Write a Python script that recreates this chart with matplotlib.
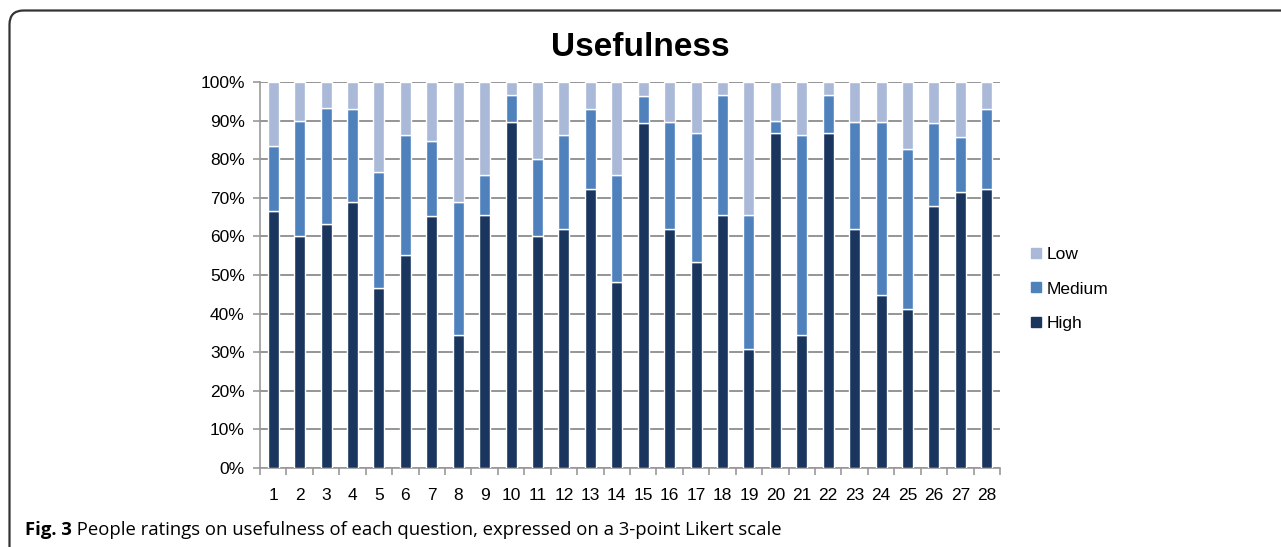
"""
Usefulness ratings per question, stacked 100% bar chart (3-point Likert scale)
"""

import numpy as np
import matplotlib
matplotlib.use('Agg')
from matplotlib import pyplot as plt
from matplotlib.patches import FancyBboxPatch
from matplotlib.lines import Line2D

# data (percent of respondents)
questions = [str(i) for i in range(1, 29)]
high = [66.6, 60.0, 63.3, 69.0, 46.6, 55.1, 65.4, 34.4, 65.5, 89.7,
        60.0, 62.0, 72.4, 48.2, 89.5, 62.0, 53.3, 65.5, 30.9, 86.7,
        34.4, 86.7, 62.0, 44.8, 41.3, 68.0, 71.5, 72.4]
medium_top = [83.3, 90.0, 93.3, 93.1, 76.7, 86.2, 84.6, 69.0, 75.8, 96.6,
              80.0, 86.2, 93.1, 75.8, 96.5, 89.7, 86.7, 96.6, 65.5, 90.0,
              86.2, 96.7, 89.7, 89.7, 82.7, 89.5, 85.7, 93.1]
medium = [m - h for m, h in zip(medium_top, high)]
low = [100 - m for m in medium_top]
y_ticks = list(range(0, 101, 10))

c_low = '#aab9d8'
c_med = '#4f81bd'
c_high = '#1b365e'


def draw_chart():
    plt.rcParams['font.family'] = ['Liberation Sans', 'DejaVu Sans']
    fig = plt.figure(figsize=(12.81, 5.47), dpi=100)
    ax = fig.add_axes([260 / 1281, 1 - 468 / 547, 740 / 1281, (468 - 82) / 547])

    x = np.arange(1, len(questions) + 1)
    w = 0.42
    ax.bar(x, high, w, color=c_high, edgecolor='white', linewidth=1, label='High', zorder=3)
    ax.bar(x, medium, w, bottom=high, color=c_med, edgecolor='white', linewidth=1,
           label='Medium', zorder=3)
    ax.bar(x, low, w, bottom=medium_top, color=c_low, edgecolor='white', linewidth=1,
           label='Low', zorder=3)

    ax.set_xlim(0.5, len(questions) + 0.5)
    ax.set_ylim(0, 100)
    ax.set_yticks(y_ticks)
    ax.set_yticklabels(['%d%%' % v for v in y_ticks], fontsize=12.5)
    ax.set_xticks(x)
    ax.set_xticklabels(questions, fontsize=12.5)
    ax.set_xticks(np.arange(0.5, len(questions) + 1), minor=True)
    ax.tick_params(axis='x', which='major', length=0, pad=14.5)
    ax.tick_params(axis='x', which='minor', length=5, color='#999999', width=1.2)
    ax.tick_params(axis='y', length=5, color='#999999', width=1.2, pad=6)

    ax.yaxis.grid(True, color='#8c8c8c', linewidth=1.3, zorder=0)
    ax.set_axisbelow(True)
    for side in ['top', 'right']:
        ax.spines[side].set_visible(False)
    for side in ['left', 'bottom']:
        ax.spines[side].set_color('#999999')
        ax.spines[side].set_linewidth(1.2)

    # legend in Low / Medium / High order
    handles = [Line2D([], [], marker='s', linestyle='', markersize=7, color=c)
               for c in (c_low, c_med, c_high)]
    fig.legend(handles, ['Low', 'Medium', 'High'], loc='center left',
               bbox_to_anchor=(1012 / 1281, 1 - 289 / 547), frameon=False,
               fontsize=12.5, handletextpad=0.1, labelspacing=1.1, handlelength=1.0)

    fig.text(640 / 1281, 1 - 47 / 547, 'Usefulness', ha='center', va='center',
             fontsize=24, fontweight='bold')

    # caption below the chart
    cap_font = ['Open Sans', 'DejaVu Sans']
    t1 = fig.text(25 / 1281, 1 - 535 / 547, 'Fig. 3', fontsize=13.3, fontweight='bold',
                  family=cap_font, va='baseline')
    plt.annotate(' People ratings on usefulness of each question, expressed on a '
                 '3-point Likert scale', xy=(1, 0), xycoords=t1, va='bottom',
                 fontsize=13.3, family=cap_font, annotation_clip=False)

    # rounded frame (left and top sides only visible)
    frame = FancyBboxPatch((9.5 / 1281, -0.2), 1.5, 1.2 - 10.5 / 547,
                           boxstyle='round,pad=0,rounding_size=0.011',
                           transform=fig.transFigure, fill=False,
                           edgecolor='#333333', linewidth=1.6,
                           mutation_aspect=1281 / 547)
    fig.patches.append(frame)

    fig.savefig('out.png', dpi=100)


def start():
    draw_chart()


if __name__ == '__main__':
    start()
